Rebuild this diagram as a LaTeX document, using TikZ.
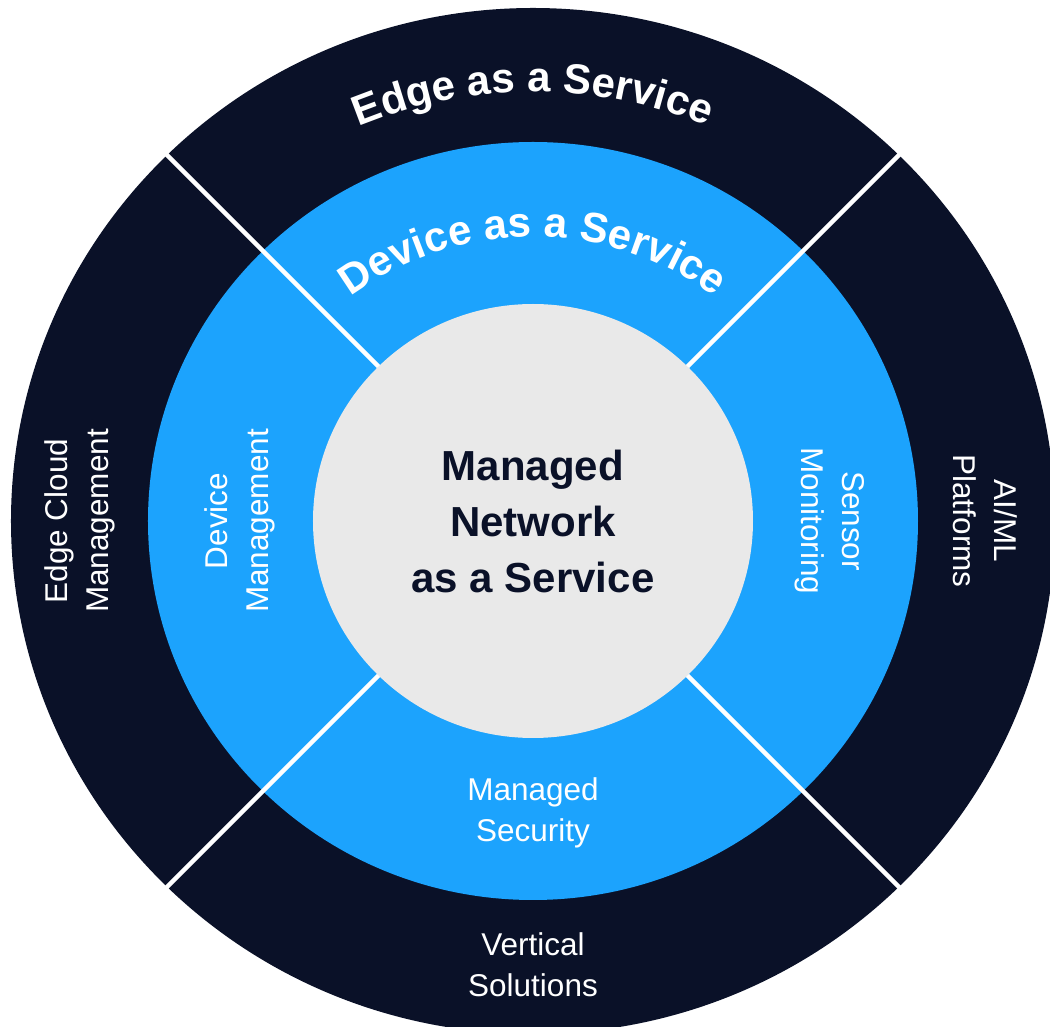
\documentclass[tikz,border=0pt]{standalone}
\usepackage{fontspec}
\setmainfont{Liberation Sans}
\usetikzlibrary{decorations.text}
\definecolor{navy}{HTML}{0A1128}
\definecolor{skyblue}{HTML}{1CA3FD}
\definecolor{coregray}{HTML}{E9E9E9}
\def\arcfont{\fontsize{42}{50}\selectfont\bfseries}

\begin{document}
\begin{tikzpicture}[x=1pt,y=1pt,
	ringlabel/.style={text=white,align=center,inner sep=0pt,font=\fontsize{31.5}{41}\selectfont},
	corelabel/.style={text=navy,align=center,inner sep=0pt,font=\fontsize{42}{56}\selectfont\bfseries},
	divider/.style={white,line width=4.5pt}]
	\useasboundingbox (-533,-506) rectangle (517,521);
	%RINGS
	\fill[navy] (0,0) ellipse [x radius=522pt, y radius=513pt];
	\fill[skyblue] (0,0) ellipse [x radius=385pt, y radius=379pt];
	%DIVIDERS
	\foreach \a in {45,135,225,315}
		\draw[divider] (0,0) -- (\a:530);
	%CORE
	\fill[coregray] (0,0) ellipse [x radius=220pt, y radius=217pt];
	
	%ARC LABELS
	\path[decorate,decoration={text along path,text align=center,text color=white,
		text={|\arcfont|Edge as a Service}}]
		(0,-12) ++(160:450pt and 441pt) arc [start angle=160, end angle=20, x radius=450pt, y radius=441pt];
	\path[decorate,decoration={text along path,text align=center,text color=white,
		text={|\arcfont|Device as a Service}}]
		(0,-14) ++(160:303pt and 298pt) arc [start angle=160, end angle=20, x radius=303pt, y radius=298pt];
	
	%LABELS
	\node[corelabel] (core) at (0,0) {Managed\\Network\\as a Service};
	\node[ringlabel,rotate=90] (devmgmt) at (-293,0) {Device\\Management};
	\node[ringlabel,rotate=-90] (sensor) at (297,0) {Sensor\\Monitoring};
	\node[ringlabel] (security) at (0,-292) {Managed\\Security};
	\node[ringlabel,rotate=90] (edgecloud) at (-453,0) {Edge Cloud\\Management};
	\node[ringlabel,rotate=-90] (aiml) at (452,0) {AI/ML\\Platforms};
	\node[ringlabel] (vertical) at (0,-444) {Vertical\\Solutions};
\end{tikzpicture}
\end{document}
